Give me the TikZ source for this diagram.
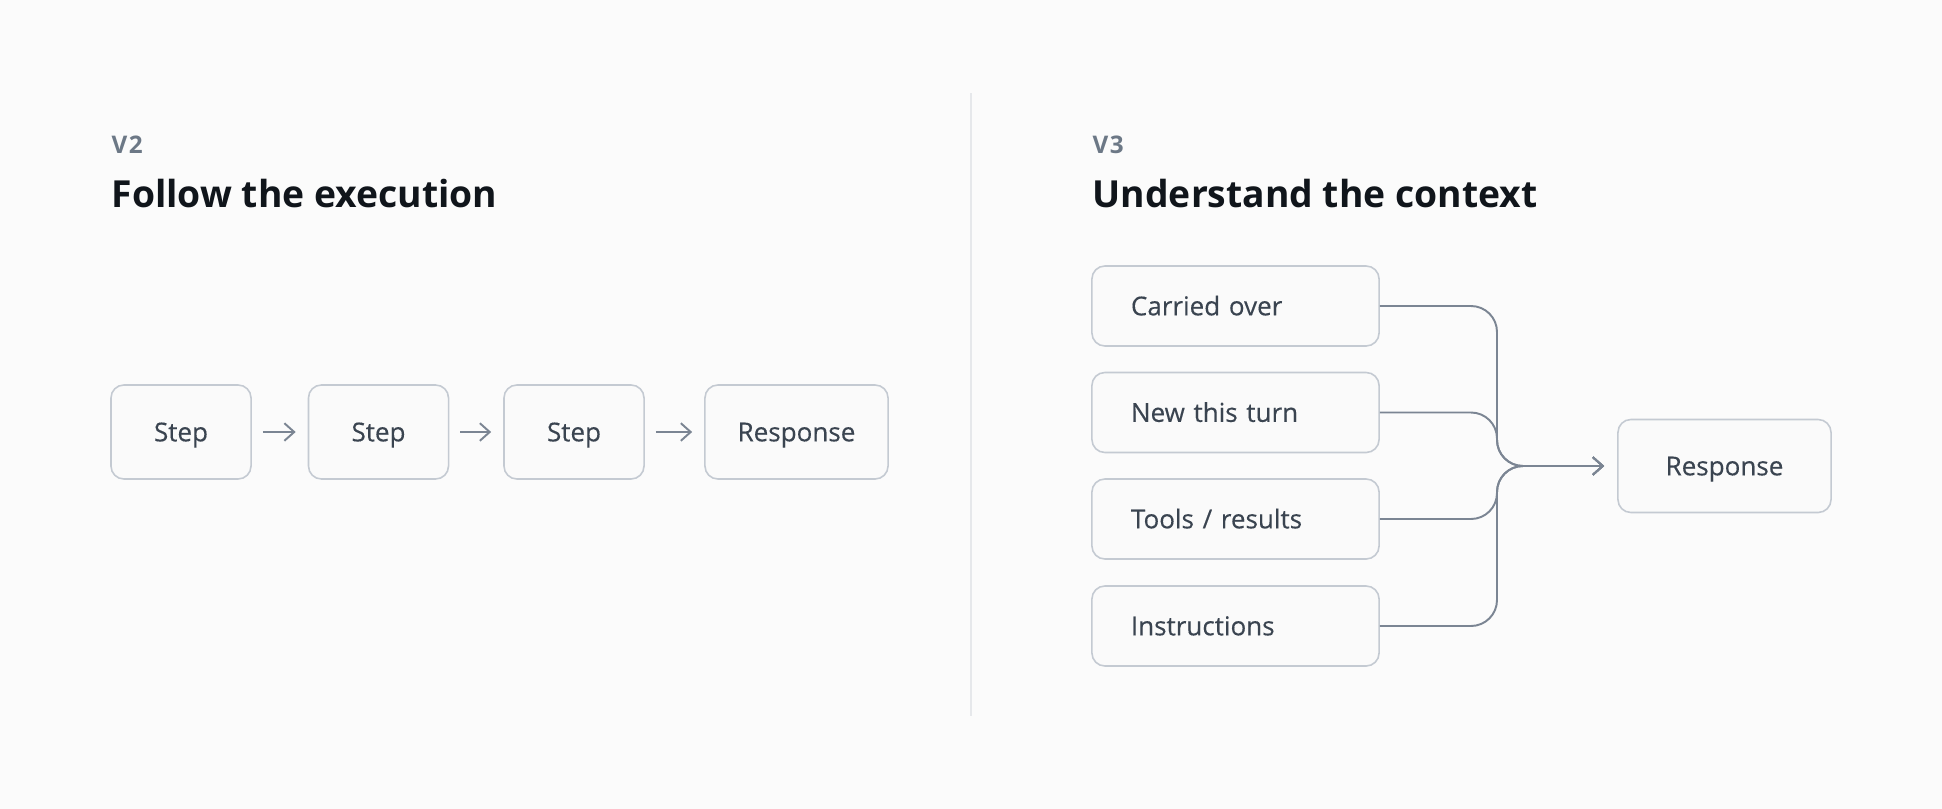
\documentclass[tikz,border=0pt]{standalone}
\usepackage{fontspec}
\setmainfont{Open Sans}
\newfontfamily\cardfont[FakeBold=0.3]{Open Sans}
\usetikzlibrary{arrows.meta}
\definecolor{pagebg}{HTML}{FBFBFB}
\definecolor{boxline}{HTML}{C4CAD2}
\definecolor{boxfill}{HTML}{FAFAFA}
\definecolor{boxtext}{HTML}{3A4450}
\definecolor{linkline}{HTML}{7B8593}
\definecolor{tagtext}{HTML}{6C7886}
\definecolor{headtext}{HTML}{10151B}
\definecolor{rulecol}{HTML}{E6E8EB}
\tikzset{
  cardbox/.style={draw=boxline,fill=boxfill,line width=0.45pt,rounded corners=0.13cm,text=boxtext,text height=5.3pt,text depth=0pt,font=\cardfont\fontsize{7.4}{9}\selectfont},
  stepbox/.style={cardbox,minimum width=1.4cm,minimum height=0.94cm,inner sep=0pt},
  srcbox/.style={cardbox,minimum height=0.8cm,inner xsep=0.39cm,text width=2.09cm,align=left},
  link/.style={draw=linkline,line width=0.55pt,-{Straight Barb[length=2.8pt,width=5pt]}},
  vtag/.style={anchor=base west,text=tagtext,inner sep=0pt,font=\bfseries\fontsize{6.9}{8}\selectfont\addfontfeature{LetterSpace=6}},
  headline/.style={anchor=base west,text=headtext,inner sep=0pt,font=\bfseries\fontsize{10.6}{12}\selectfont},
}
\begin{document}
\begin{tikzpicture}[x=0.01cm,y=-0.01cm]
            \fill[pagebg] (0,0) rectangle (1942,809);
            \useasboundingbox (0,0) rectangle (1942,809);
            % left half
            \node[vtag] (v2) at (111,153) {V2};
            \node[headline] (head2) at (111,207) {Follow the execution};
            \node[stepbox] (step1) at (181,432) {Step};
            \node[stepbox] (step2) at (378.5,432) {Step};
            \node[stepbox] (step3) at (574,432) {Step};
            \node[stepbox,minimum width=1.83cm] (resp2) at (796.5,432) {Response};
            \draw[link,shorten <=0.11cm,shorten >=0.12cm] (step1)--(step2);
            \draw[link,shorten <=0.11cm,shorten >=0.12cm] (step2)--(step3);
            \draw[link,shorten <=0.11cm,shorten >=0.12cm] (step3)--(resp2);
            % divider
            \draw[rulecol,line width=0.4pt] (971,93)--(971,716);
            % right half
            \node[vtag] (v3) at (1092,153) {V3};
            \node[headline] (head3) at (1092,207) {Understand the context};
            \node[srcbox] (carried) at (1235.5,306) {Carried over};
            \node[srcbox] (newturn) at (1235.5,412.5) {New this turn};
            \node[srcbox] (tools) at (1235.5,519) {Tools / results};
            \node[srcbox] (instr) at (1235.5,626) {Instructions};
            \node[cardbox,minimum width=2.13cm,minimum height=0.93cm] (resp3) at (1724.5,466) {Response};
            \coordinate (merge) at (1497,466);
            \draw[link,rounded corners=0.26cm,shorten >=0.13cm] (carried.east)-|(merge)--(resp3.west);
            \draw[link,rounded corners=0.26cm,shorten >=0.13cm] (newturn.east)-|(merge)--(resp3.west);
            \draw[link,rounded corners=0.26cm,shorten >=0.13cm] (tools.east)-|(merge)--(resp3.west);
            \draw[link,rounded corners=0.26cm,shorten >=0.13cm] (instr.east)-|(merge)--(resp3.west);
\end{tikzpicture}
\end{document}
